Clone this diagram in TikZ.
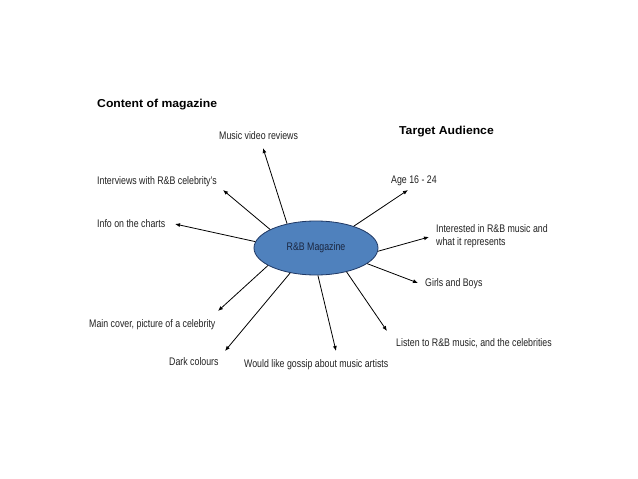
\documentclass[tikz,border=0pt]{standalone}
\usepackage{fontspec}
\setmainfont{Liberation Sans}[FakeStretch=0.8]
\newfontfamily\titlefont{Liberation Sans}[FakeStretch=1.06]
\usetikzlibrary{shapes.geometric,arrows.meta}
\definecolor{magfill}{HTML}{4F81BD}
\definecolor{magedge}{HTML}{1F3864}
\definecolor{magtext}{HTML}{1A2640}
\definecolor{lbltext}{HTML}{222222}
\begin{document}
\begin{tikzpicture}[x=1pt,y=-1pt,
  lbl/.style={inner sep=0pt,anchor=west,font=\fontsize{11}{13}\selectfont,text=lbltext,align=left},
  ttl/.style={inner sep=0pt,anchor=west,font=\titlefont\bfseries\fontsize{11.5}{13}\selectfont},
  conn/.style={draw=black,line width=0.8pt,-{Latex[length=5pt,width=4pt]}}]
\useasboundingbox[fill=white] (0,0) rectangle (638,479);
\node[ellipse,draw=magedge,line width=0.8pt,fill=magfill,minimum width=124pt,minimum height=54pt,inner sep=0pt,
  font=\fontsize{11}{13}\selectfont,text=magtext] (mag) at (316,248) {R\&B Magazine};
\node[ttl] (content) at (97,105) {Content of magazine};
\node[ttl] (target) at (399,132) {Target Audience};
\node[lbl] (music) at (219,136) {Music video reviews};
\node[lbl] (interv) at (97,182) {Interviews with R\&B celebrity's};
\node[lbl] (info) at (97,224) {Info on the charts};
\node[lbl] (age) at (391,181) {Age 16 - 24};
\node[lbl] (inter) at (436,236.5) {Interested in R\&B music and\\what it represents};
\node[lbl] (girls) at (425,284) {Girls and Boys};
\node[lbl] (listen) at (396,343) {Listen to R\&B music, and the celebrities};
\node[lbl] (cover) at (89,325) {Main cover, picture of a celebrity};
\node[lbl] (dark) at (169,362) {Dark colours};
\node[lbl] (gossip) at (244,365) {Would like gossip about music artists};
\coordinate (tmusic) at (263,148);
\coordinate (tinterv) at (223,190);
\coordinate (tinfo) at (175,224);
\coordinate (tage) at (408,190);
\coordinate (tinter) at (429,237);
\coordinate (tgirls) at (418,283);
\coordinate (tcover) at (218,311);
\coordinate (tdark) at (225,351);
\coordinate (tgossip) at (336,351);
\coordinate (tlisten) at (387,331);
\draw[conn] (mag.140) -- (tmusic);
\draw[conn] (mag.158) -- (tinterv);
\draw[conn] (mag.174) -- (tinfo);
\draw[conn] (mag.30) -- (tage);
\draw[conn] (mag.-3) -- (tinter);
\draw[conn] (mag.-17) -- (tgirls);
\draw[conn] (mag.200) -- (tcover);
\draw[conn] (mag.224) -- (tdark);
\draw[conn] (mag.274) -- (tgossip);
\draw[conn] (mag.322) -- (tlisten);
\end{tikzpicture}
\end{document}
